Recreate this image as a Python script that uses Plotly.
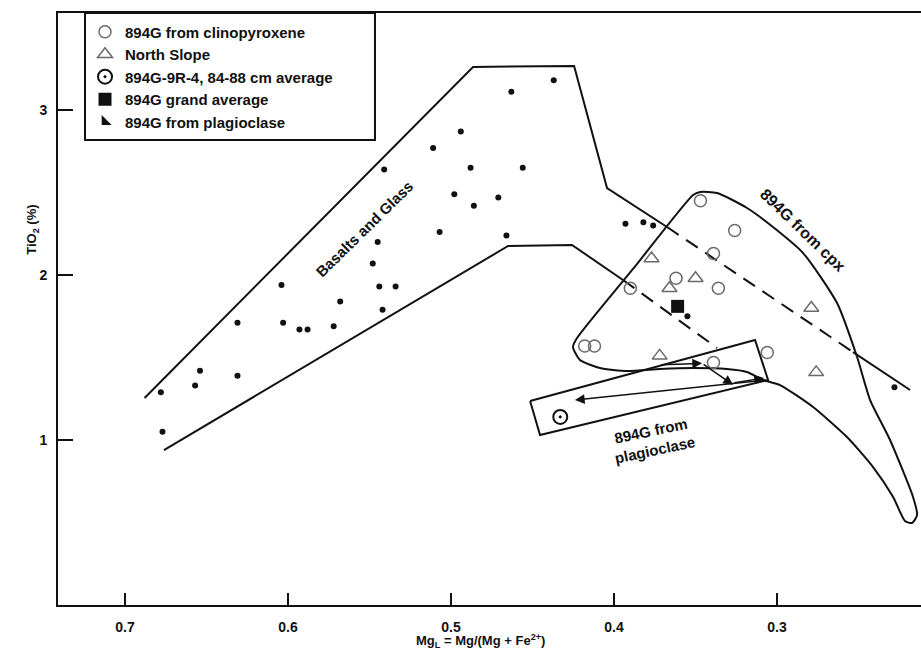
import plotly.graph_objects as go

# ---- basalt and glass analyses (small dots) ----
basalt_mg = [0.678, 0.677, 0.657, 0.654, 0.631, 0.631, 0.604, 0.603, 0.593, 0.588,
             0.572, 0.568, 0.548, 0.545, 0.544, 0.542, 0.541, 0.534, 0.511, 0.507,
             0.498, 0.494, 0.488, 0.486, 0.471, 0.466, 0.463, 0.456, 0.437, 0.393,
             0.382, 0.376, 0.355, 0.228]
basalt_ti = [1.29, 1.05, 1.33, 1.42, 1.39, 1.71, 1.94, 1.71, 1.67, 1.67,
             1.69, 1.84, 2.07, 2.20, 1.93, 1.79, 2.64, 1.93, 2.77, 2.26,
             2.49, 2.87, 2.65, 2.42, 2.47, 2.24, 3.11, 2.65, 3.18, 2.31,
             2.32, 2.30, 1.75, 1.32]

# ---- 894G melts calculated from clinopyroxene ----
cpx_mg = [0.347, 0.326, 0.339, 0.362, 0.390, 0.336, 0.418, 0.412, 0.339, 0.306]
cpx_ti = [2.45, 2.27, 2.13, 1.98, 1.92, 1.92, 1.57, 1.57, 1.47, 1.53]

# ---- North Slope ----
north_mg = [0.377, 0.366, 0.350, 0.372, 0.279, 0.276]
north_ti = [2.10, 1.92, 1.98, 1.51, 1.80, 1.41]

# ---- averages ----
avg9r_mg, avg9r_ti = [0.433], [1.14]
grand_mg, grand_ti = [0.361], [1.81]

# ---- 894G from plagioclase: trend arrows (tail -> head) ----
plag_tail_mg = [0.372, 0.346, 0.327, 0.306]
plag_tail_ti = [1.455, 1.465, 1.345, 1.364]
plag_head_mg = [0.346, 0.327, 0.308, 0.424]
plag_head_ti = [1.465, 1.335, 1.376, 1.242]

# ---- field outlines ----
# Basalts and Glass field: upper and lower bounding lines
bas_upper_mg = [0.688, 0.4865, 0.4245, 0.4043, 0.3675]
bas_upper_ti = [1.255, 3.261, 3.267, 2.527, 2.291]
bas_upper_dash_mg = [0.3675, 0.2534]
bas_upper_dash_ti = [2.291, 1.533]
bas_upper_end_mg = [0.2534, 0.2184]
bas_upper_end_ti = [1.533, 1.303]
bas_lower_mg = [0.6761, 0.465, 0.4258, 0.3945]
bas_lower_ti = [0.939, 2.176, 2.182, 1.970]
bas_lower_dash_mg = [0.3945, 0.3368]
bas_lower_dash_ti = [1.970, 1.558]

# 894G from cpx field (closed outline)
cpxfield_mg = [0.3472, 0.3368, 0.3184, 0.3025, 0.2840, 0.2632, 0.2509, 0.2429,
               0.2307, 0.2166, 0.2141, 0.2172, 0.2215, 0.2288, 0.2411, 0.2571,
               0.2779, 0.2982, 0.3086, 0.3184, 0.3307, 0.3515, 0.3718, 0.3920,
               0.4086, 0.4209, 0.4252, 0.4227, 0.3871, 0.3515, 0.3472]
cpxfield_ti = [2.503, 2.497, 2.406, 2.291, 2.133, 1.830, 1.503, 1.242,
               1.000, 0.655, 0.545, 0.497, 0.509, 0.655, 0.836, 1.018,
               1.200, 1.333, 1.364, 1.412, 1.430, 1.436, 1.430, 1.418,
               1.436, 1.485, 1.564, 1.618, 2.052, 2.485, 2.503]

# 894G from plagioclase field (box)
plagbox_mg = [0.4515, 0.3135, 0.3055, 0.4454, 0.4515]
plagbox_ti = [1.236, 1.606, 1.364, 1.030, 1.236]

x_ticks = [0.7, 0.6, 0.5, 0.4, 0.3]
x_ticktext = ["0.7", "0.6", "0.5", "0.4", "0.3"]
y_ticks = [1, 2, 3]
y_ticktext = ["1", "2", "3"]

INK = "#111111"
GREY = "#6a6a6a"
FONT = "Liberation Sans, Arial, sans-serif"

fig = go.Figure()


def outline(xs, ys, dash="solid", shape="linear"):
    fig.add_trace(go.Scatter(
        x=xs, y=ys, mode="lines", showlegend=False, hoverinfo="skip",
        line=dict(color=INK, width=2, dash=dash, shape=shape, smoothing=0.6)))


outline(bas_upper_mg, bas_upper_ti)
outline(bas_upper_dash_mg, bas_upper_dash_ti, dash="14px,9px")
outline(bas_upper_end_mg, bas_upper_end_ti)
outline(bas_lower_mg, bas_lower_ti)
outline(bas_lower_dash_mg, bas_lower_dash_ti, dash="14px,9px")
outline(cpxfield_mg, cpxfield_ti, shape="spline")
outline(plagbox_mg, plagbox_ti)

fig.add_trace(go.Scatter(
    x=basalt_mg, y=basalt_ti, mode="markers", showlegend=False,
    marker=dict(symbol="circle", size=6, color=INK)))

fig.add_trace(go.Scatter(
    x=cpx_mg, y=cpx_ti, mode="markers", name="894G from clinopyroxene",
    marker=dict(symbol="circle-open", size=12, color=GREY, line=dict(width=1.5, color=GREY))))
fig.add_trace(go.Scatter(
    x=north_mg, y=north_ti, mode="markers", name="North Slope",
    marker=dict(symbol="triangle-up-open", size=13, color=GREY, line=dict(width=1.5, color=GREY))))
fig.add_trace(go.Scatter(
    x=avg9r_mg, y=avg9r_ti, mode="markers", name="894G-9R-4, 84-88 cm average",
    marker=dict(symbol="circle-open-dot", size=14, color=INK, line=dict(width=2, color=INK))))
fig.add_trace(go.Scatter(
    x=grand_mg, y=grand_ti, mode="markers", name="894G grand average",
    marker=dict(symbol="square", size=13, color=INK)))
fig.add_trace(go.Scatter(
    x=[None], y=[None], mode="markers", name="894G from plagioclase",
    marker=dict(symbol="triangle-sw", size=11, color=INK)))

annotations = []
for tx, ty, hx, hy in zip(plag_tail_mg, plag_tail_ti, plag_head_mg, plag_head_ti):
    annotations.append(dict(
        x=hx, y=hy, ax=tx, ay=ty, xref="x", yref="y", axref="x", ayref="y",
        text="", showarrow=True, arrowhead=2, arrowsize=1.3, arrowwidth=1.5,
        arrowcolor=INK))

label_font = dict(family=FONT, size=15, color=INK, weight="bold")
annotations += [
    dict(x=0.5528, y=2.279, xref="x", yref="y", text="Basalts and Glass",
         showarrow=False, textangle=-44.5, font=label_font),
    dict(x=0.2847, y=2.273, xref="x", yref="y", text="894G from cpx",
         showarrow=False, textangle=44,
         font=dict(family=FONT, size=16, color=INK, weight="bold")),
    dict(x=0.3761, y=1.0, xref="x", yref="y", text="894G from<br>plagioclase",
         showarrow=False, textangle=-12, font=label_font, align="center"),
    dict(x=-0.0417, y=0.633, xref="paper", yref="paper", text="TiO<sub>2</sub> (%)",
         showarrow=False, textangle=-90, font=dict(family=FONT, size=13, color=INK, weight="bold")),
    dict(x=0.489, y=-0.079, xref="paper", yref="paper",
         text="Mg<sub>L</sub> = Mg/(Mg + Fe<sup>2+</sup>)",
         showarrow=False, font=dict(family=FONT, size=13, color=INK, weight="bold")),
]

fig.update_layout(
    width=921, height=666,
    margin=dict(l=58, r=0, t=13, b=61),
    plot_bgcolor="white", paper_bgcolor="white",
    font=dict(family=FONT, color=INK),
    annotations=annotations,
    showlegend=True,
    legend=dict(x=0.0313, y=0.892, xanchor="left", yanchor="middle",
                bgcolor="rgba(0,0,0,0)", borderwidth=0,
                font=dict(family=FONT, size=15, color=INK, weight="bold")),
    shapes=[dict(type="rect", xref="paper", yref="paper",
                 x0=0.0313, x1=0.3673, y0=0.7855, y1=1.0,
                 line=dict(color=INK, width=2))],
)

fig.update_xaxes(
    range=[0.7411, 0.2117], tickvals=x_ticks, ticktext=x_ticktext,
    ticks="inside", ticklen=12, tickwidth=2, tickcolor=INK,
    showline=True, linewidth=2, linecolor=INK, mirror=True,
    showgrid=False, zeroline=False, ticklabelstandoff=8,
    tickfont=dict(family=FONT, size=14, color=INK, weight="bold"))
fig.update_yaxes(
    range=[0, 3.588], tickvals=y_ticks, ticktext=y_ticktext,
    ticks="inside", ticklen=15, tickwidth=2, tickcolor=INK,
    showline=True, linewidth=2, linecolor=INK, mirror=False,
    showgrid=False, zeroline=False, ticklabelstandoff=6,
    tickfont=dict(family=FONT, size=14, color=INK, weight="bold"))

fig.write_html("out.html")
